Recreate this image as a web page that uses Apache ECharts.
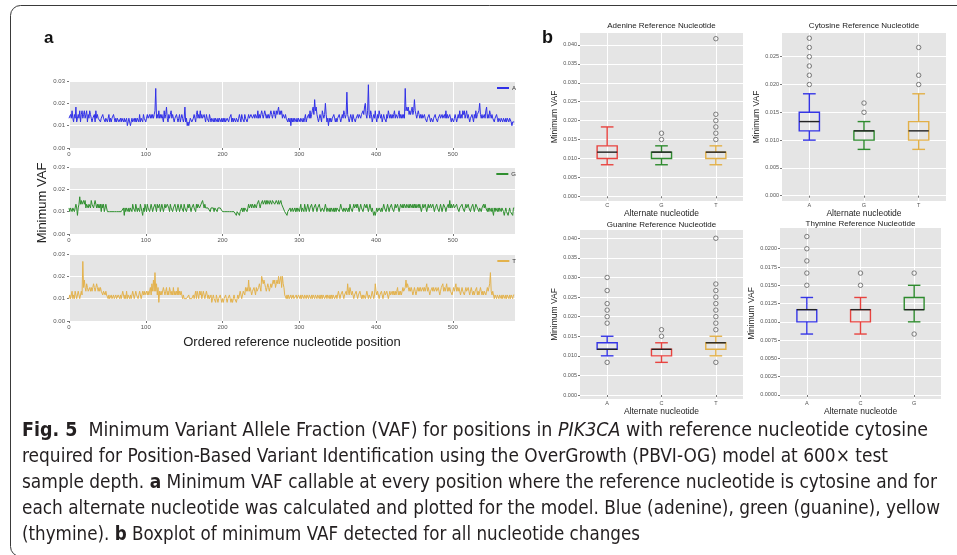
<!DOCTYPE html>
<html>
<head>
<meta charset="utf-8">
<title>Minimum VAF - PIK3CA</title>
<script src="https://cdn.jsdelivr.net/npm/echarts@6/dist/echarts.min.js"></script>
<style>
html, body { margin: 0; padding: 0; background: #fff; }
#main { width: 957px; height: 555px; }
</style>
</head>
<body>
<div id="main"></div>
<script>
// panel a: minimum alt read count per ordered position at 600x depth (VAF = count / 600)
const minCountA = [
  8,8,9,8,10,8,7,9,8,11,7,8,9,8,10,7,9,10,8,9,
  10,8,9,10,7,9,8,10,9,8,7,8,8,9,7,10,8,9,8,8,
  8,7,8,8,9,8,8,7,8,8,7,8,9,7,8,7,8,8,9,8,
  7,8,7,8,8,7,7,8,7,8,8,7,8,7,7,8,6,7,8,7,
  6,7,8,7,7,8,7,8,7,8,8,7,9,7,8,8,7,9,8,8,
  7,8,9,8,8,9,8,9,8,9,8,9,10,16,8,9,8,10,8,9,
  8,9,8,7,10,8,9,11,8,7,9,8,9,10,8,9,8,7,8,8,
  9,8,7,8,9,7,8,9,8,7,8,11,7,8,6,7,6,7,8,8,
  7,7,8,9,8,7,9,10,8,9,8,10,8,9,8,8,9,8,7,9,
  8,8,7,9,8,7,8,8,7,8,7,8,8,7,8,7,8,8,7,8,
  7,8,7,8,7,7,8,8,7,8,8,9,7,8,7,8,8,7,8,8,
  7,8,9,8,7,9,8,8,7,9,8,8,7,8,9,8,8,9,9,8,
  8,9,8,9,9,8,10,8,9,8,8,10,9,8,9,10,10,8,9,8,
  9,8,8,10,9,8,9,10,9,8,10,9,10,11,9,10,9,10,8,9,
  9,8,9,8,8,7,8,7,8,6,8,7,8,7,8,8,7,8,7,8,
  8,7,8,8,7,8,7,8,9,7,8,8,9,8,10,8,9,10,11,9,
  13,10,11,9,8,7,8,9,8,7,10,9,8,9,12,9,7,8,6,8,
  7,8,7,8,8,9,8,7,8,7,8,8,9,8,7,8,9,8,10,9,
  8,9,15,9,8,7,8,9,8,7,9,8,8,7,8,8,9,8,9,9,
  8,9,9,10,9,11,12,9,8,10,17,9,8,10,9,7,8,9,8,10,
  8,7,9,8,10,9,8,9,7,8,9,8,8,7,9,8,10,9,8,9,
  8,9,8,9,10,8,9,9,8,9,10,8,9,8,9,8,9,8,16,10,
  11,10,11,9,10,9,10,11,9,10,13,10,9,8,9,10,9,8,9,8,
  9,8,8,9,8,8,7,8,8,9,8,7,8,8,7,8,8,9,8,8,
  7,8,8,9,8,8,9,8,8,9,8,10,8,9,8,8,9,8,7,8,
  8,7,8,9,8,7,8,9,8,10,8,9,8,10,9,10,8,9,10,8,
  9,8,7,8,8,9,8,7,9,8,10,8,9,9,10,12,9,8,9,8,
  8,9,8,10,11,8,9,8,10,9,8,9,8,8,7,8,8,9,8,7,
  8,8,7,8,8,7,8,8,7,8,7,8,8,7,8,8,7,6,7,7,
  7
];
const minCountG = [
  7,6,7,7,6,7,7,6,7,8,7,5,7,8,10,8,9,8,8,9,
  8,9,7,8,8,7,8,8,7,9,8,8,7,8,9,8,7,8,7,8,
  7,8,6,8,7,8,6,7,8,7,6,6,6,6,6,6,6,6,6,6,
  6,6,6,6,6,6,6,6,6,6,6,7,5,7,6,7,7,6,7,6,
  7,7,6,8,7,7,6,8,7,6,7,7,6,8,7,6,5,7,6,8,
  7,6,8,7,7,6,7,8,7,6,7,7,8,7,6,8,7,7,8,6,
  7,8,7,6,7,8,7,7,8,8,7,6,8,7,7,6,7,7,8,7,
  6,7,8,7,6,7,8,7,7,6,8,7,7,6,7,8,7,8,7,6,
  7,7,8,7,7,6,8,7,8,8,7,7,8,8,9,8,7,8,7,7,
  7,7,7,7,6,7,7,7,7,6,7,7,7,6,7,7,7,7,7,7,
  6,6,6,6,6,6,6,6,6,6,6,6,6,6,6,6,6,6,5,6,
  6,6,5,6,6,7,6,7,6,7,7,7,6,7,8,7,7,8,7,8,
  8,7,8,8,7,8,8,9,8,7,8,8,9,8,8,9,8,9,8,9,
  9,8,9,9,8,9,9,9,8,8,9,9,8,9,8,8,9,8,8,7,
  7,6,6,6,5,6,6,6,7,6,6,7,6,6,7,6,7,6,7,7,
  6,7,8,6,7,7,6,8,7,6,7,8,7,6,7,7,8,7,6,7,
  7,8,7,6,7,7,8,7,6,6,7,7,6,7,8,7,6,7,7,6,
  7,6,7,7,6,7,6,7,6,7,7,7,6,7,8,7,7,6,7,7,
  6,7,7,6,7,6,8,7,7,6,7,8,7,7,8,7,8,7,6,7,
  8,7,7,6,7,8,8,7,8,7,6,7,8,7,6,7,7,5,6,5,
  6,7,6,6,7,7,6,7,6,7,8,7,7,6,7,8,7,6,7,7,
  8,7,7,6,7,8,7,7,8,7,6,7,8,8,7,8,7,8,8,7,
  8,8,7,8,7,8,8,7,8,7,8,7,8,7,7,8,7,8,7,6,
  7,8,7,7,8,7,6,7,8,7,7,8,7,7,8,7,6,7,7,8,
  7,7,6,7,8,7,6,7,8,8,7,6,7,7,8,7,9,7,8,7,
  7,8,7,7,7,8,7,7,6,7,7,7,8,7,7,6,7,8,7,7,
  8,7,7,6,7,7,8,7,6,7,8,8,7,7,6,7,7,6,7,7,
  8,7,8,7,7,6,7,6,7,7,6,7,7,5,7,6,7,7,6,7,
  6,7,7,6,7,7,6,5,6,7,6,6,5,6,7,6,6,6,5,7,
  7
];
const minCountT = [
  6,7,6,7,8,6,7,6,8,7,6,7,8,7,6,7,8,7,16,9,
  11,9,8,10,9,8,8,9,8,9,8,9,10,9,8,9,10,9,8,9,
  8,9,8,8,7,8,8,7,8,7,7,6,7,6,6,7,6,6,7,6,
  6,7,6,6,7,7,6,7,6,7,8,7,6,7,6,8,6,7,7,6,
  7,6,7,8,7,6,7,8,7,7,6,7,8,7,6,7,8,7,8,7,
  7,8,7,8,7,8,9,7,10,8,11,8,13,8,10,7,9,5,8,7,
  8,7,7,9,8,7,8,9,7,8,7,9,8,7,8,7,9,7,8,7,
  8,7,9,7,8,7,8,7,6,7,6,6,6,6,6,6,7,6,6,6,
  6,6,7,6,7,8,6,8,7,6,8,7,8,6,7,8,7,6,7,8,
  7,6,7,6,6,7,5,6,7,6,6,5,7,6,5,6,6,7,6,5,
  6,5,6,6,7,6,5,6,6,7,6,5,6,5,6,7,6,6,5,6,
  7,6,7,8,7,6,7,8,8,7,9,8,9,8,11,8,9,8,7,8,
  8,9,8,7,9,8,8,9,10,9,8,12,11,10,11,10,9,8,9,10,
  9,8,9,10,9,10,11,10,11,9,10,11,10,12,10,11,12,9,12,10,
  9,7,7,6,7,6,7,6,6,7,6,6,7,6,6,6,7,6,6,7,
  7,6,7,6,7,7,6,7,7,6,7,7,6,7,7,6,7,6,7,7,
  6,7,7,6,7,7,6,7,6,7,6,7,7,6,6,7,6,7,7,6,
  7,6,7,6,7,7,6,6,7,6,7,8,7,6,7,7,8,7,6,7,
  7,8,7,10,8,7,9,8,7,8,7,6,7,7,8,7,6,7,7,8,
  7,6,7,6,7,7,6,7,8,7,6,7,7,6,7,8,7,6,7,10,
  8,7,8,7,6,7,7,8,7,6,7,8,7,7,8,7,6,7,8,7,
  7,8,7,8,7,8,7,8,9,7,8,7,8,7,8,9,8,8,9,11,
  9,10,9,8,9,8,9,8,7,8,9,8,7,8,9,8,9,8,9,8,
  8,9,8,9,8,9,10,8,9,8,7,8,8,9,8,9,8,8,9,8,
  8,9,8,7,8,9,9,10,8,9,8,9,10,8,9,8,9,8,8,7,
  8,9,8,9,10,8,9,8,9,8,7,8,9,8,8,7,8,9,8,8,
  9,8,7,8,9,8,7,8,7,8,8,9,7,8,7,8,9,8,7,8,
  7,8,8,7,8,9,8,9,10,13,8,7,8,7,6,7,7,6,7,7,
  6,7,7,6,7,6,7,7,6,7,6,7,7,6,7,6,7,7,6,7,
  7
];
const positionTicks = [0, 100, 200, 300, 400, 500];

// panel b: boxplot stats in read counts [min, q1, median, q3, max] and outliers
const adenineAlt = ['C', 'G', 'T'];
const adenineBox = [[5, 6, 7, 8, 11], [5, 6, 7, 7, 8], [5, 6, 7, 7, 8]];
const adenineOut = [[], [9, 10], [9, 10, 11, 12, 13, 25]];

const cytosineAlt = ['A', 'G', 'T'];
const cytosineBox = [[6, 7, 8, 9, 11], [5, 6, 7, 7, 8], [5, 6, 7, 8, 11]];
const cytosineOut = [[12, 13, 14, 15, 16, 17], [9, 10], [12, 13, 16]];

const guanineAlt = ['A', 'C', 'T'];
const guanineBox = [[6, 7, 7, 8, 9], [5, 6, 7, 7, 8], [6, 7, 8, 8, 9]];
const guanineOut = [[5, 11, 12, 13, 14, 16, 18], [9, 10], [5, 10, 11, 12, 13, 14, 15, 16, 17, 24]];

const thymineAlt = ['A', 'C', 'G'];
const thymineBox = [[5, 6, 7, 7, 8], [5, 6, 7, 7, 8], [6, 7, 7, 8, 9]];
const thymineOut = [[9, 10, 11, 12, 13], [9, 10], [5, 10]];

const ticks040 = [0, 3, 6, 9, 12, 15, 18, 21, 24];
const ticks025 = [0, 3, 6, 9, 12, 15];
const ticks020 = [0, 1.5, 3, 4.5, 6, 7.5, 9, 10.5, 12];

const DEPTH = 600;
const BG = '#e5e5e5';
const FONT = 'Liberation Sans, Arial, sans-serif';
const NUC_COLOR = { A: '#3535e6', C: '#e8433f', G: '#2e8b2e', T: '#e2b048' };
const LINE_COLOR = { A: '#3030e8', G: '#2f8f2f', T: '#e3b24c' };

const chart = echarts.init(document.getElementById('main'), null, { renderer: 'canvas' });

const grids = [], xAxes = [], yAxes = [], series = [], legends = [], graphics = [];

const tickLabel = { fontSize: 6, color: '#555', fontFamily: FONT };
const whiteLine = { show: true, lineStyle: { color: '#fff', width: 1 } };

// ---- panel a
const lines = [
  { name: 'A', counts: minCountA, top: 81 },
  { name: 'G', counts: minCountG, top: 167 },
  { name: 'T', counts: minCountT, top: 254 }
];
lines.forEach((ln, k) => {
  grids.push({ left: 69, top: ln.top, width: 446, height: 67, show: true, backgroundColor: BG, borderWidth: 0 });
  const xa = {
    type: 'value', gridIndex: k, min: 0, max: 581,
    axisLine: { show: false },
    axisTick: { show: true, customValues: positionTicks, length: 2, lineStyle: { color: '#777' } },
    axisLabel: Object.assign({ customValues: positionTicks, margin: 3 }, tickLabel),
    splitLine: whiteLine
  };
  if (k === 2) {
    xa.name = 'Ordered reference nucleotide position';
    xa.nameLocation = 'middle';
    xa.nameGap = 15;
    xa.nameTextStyle = { fontSize: 13, color: '#222', fontFamily: FONT };
  }
  xAxes.push(xa);
  yAxes.push({
    type: 'value', gridIndex: k, min: 0, max: 18, interval: 6,
    axisLine: { show: false },
    axisTick: { show: true, length: 2, lineStyle: { color: '#777' } },
    axisLabel: Object.assign({ margin: 4, formatter: v => (v / DEPTH).toFixed(2) }, tickLabel),
    splitLine: whiteLine
  });
  series.push({
    type: 'line', name: ln.name, xAxisIndex: k, yAxisIndex: k,
    data: ln.counts.map((c, i) => [i, c]),
    symbol: 'none', showSymbol: false,
    lineStyle: { width: 1, color: LINE_COLOR[ln.name] },
    itemStyle: { color: LINE_COLOR[ln.name] },
    animation: false
  });
  legends.push({
    data: [ln.name], right: 441, top: ln.top + 4, padding: 0,
    icon: 'rect', itemWidth: 12, itemHeight: 2, itemGap: 0,
    textStyle: { fontSize: 6, color: '#333', fontFamily: FONT, padding: [0, 0, 0, -2] }
  });
});

graphics.push({
  type: 'text', x: 42, y: 203, rotation: Math.PI / 2,
  style: { text: 'Minimum VAF', fontSize: 13, fontFamily: FONT, fill: '#222',
    align: 'center', verticalAlign: 'middle', textAlign: 'center', textVerticalAlign: 'middle' }
});

// ---- panel b
function renderBox(params, api) {
  const x = api.value(0);
  const lo = api.coord([x, api.value(1)]);
  const q1 = api.coord([x, api.value(2)]);
  const med = api.coord([x, api.value(3)]);
  const q3 = api.coord([x, api.value(4)]);
  const hi = api.coord([x, api.value(5)]);
  const unit = api.size([1, 0])[0];
  const bw = unit * 0.37, cw = bw * 0.63;
  const cx = lo[0];
  const color = api.visual('color');
  const st = { stroke: color, lineWidth: 1.4, fill: 'none' };
  return {
    type: 'group',
    children: [
      { type: 'line', shape: { x1: cx, y1: q1[1], x2: cx, y2: lo[1] }, style: st },
      { type: 'line', shape: { x1: cx, y1: q3[1], x2: cx, y2: hi[1] }, style: st },
      { type: 'line', shape: { x1: cx - cw / 2, y1: lo[1], x2: cx + cw / 2, y2: lo[1] }, style: st },
      { type: 'line', shape: { x1: cx - cw / 2, y1: hi[1], x2: cx + cw / 2, y2: hi[1] }, style: st },
      { type: 'rect', shape: { x: cx - bw / 2, y: q3[1], width: bw, height: q1[1] - q3[1] }, style: st },
      { type: 'line', shape: { x1: cx - bw / 2, y1: med[1], x2: cx + bw / 2, y2: med[1] }, style: { stroke: '#222', lineWidth: 1.4 } }
    ]
  };
}

const boxPanels = [
  { title: 'Adenine Reference Nucleotide', alt: adenineAlt, box: adenineBox, out: adenineOut,
    left: 580, top: 33, width: 163, height: 168, yMin: -0.75, yMax: 25.9, ticks: ticks040, dec: 3,
    nameGap: 16, xName: 'Alternate nucleotide', titleY: 26 },
  { title: 'Cytosine Reference Nucleotide', alt: cytosineAlt, box: cytosineBox, out: cytosineOut,
    left: 782, top: 33, width: 164, height: 168, yMin: -0.57, yMax: 17.56, ticks: ticks025, dec: 3,
    nameGap: 16, xName: 'Alternate nucleotide', titleY: 26 },
  { title: 'Guanine Reference Nucleotide', alt: guanineAlt, box: guanineBox, out: guanineOut,
    left: 580, top: 230, width: 163, height: 169, yMin: -0.61, yMax: 25.27, ticks: ticks040, dec: 3,
    nameGap: 16, xName: 'Alternate nucleotide', titleY: 225 },
  { title: 'Thymine Reference Nucleotide', alt: thymineAlt, box: thymineBox, out: thymineOut,
    left: 780, top: 228, width: 161, height: 171, yMin: -0.33, yMax: 13.7, ticks: ticks020, dec: 4,
    nameGap: 19, xName: 'Alternate nucleotde', titleY: 224 }
];

boxPanels.forEach((p, j) => {
  const gi = 3 + j;
  grids.push({ left: p.left, top: p.top, width: p.width, height: p.height, show: true, backgroundColor: BG, borderWidth: 0 });
  xAxes.push({
    type: 'value', gridIndex: gi, min: 0.5, max: 3.5,
    axisLine: { show: false },
    axisTick: { show: true, customValues: [1, 2, 3], length: 2, lineStyle: { color: '#777' } },
    axisLabel: Object.assign({ customValues: [1, 2, 3], margin: 1, formatter: v => p.alt[Math.round(v) - 1] }, tickLabel, { fontSize: 5.5 }),
    splitLine: whiteLine,
    name: p.xName, nameLocation: 'middle', nameGap: 2,
    nameTextStyle: { fontSize: 8.5, color: '#222', fontFamily: FONT, verticalAlign: 'top' }
  });
  yAxes.push({
    type: 'value', gridIndex: gi, min: p.yMin, max: p.yMax,
    axisLine: { show: false },
    axisTick: { show: true, customValues: p.ticks, length: 2, lineStyle: { color: '#777' } },
    axisLabel: Object.assign({ customValues: p.ticks, margin: 3, formatter: v => (v / DEPTH).toFixed(p.dec) }, tickLabel, { fontSize: 5.5 }),
    splitLine: whiteLine,
    name: 'Minimum VAF', nameLocation: 'middle', nameGap: p.nameGap, nameRotate: 90,
    nameTextStyle: { fontSize: 8.5, color: '#222', fontFamily: FONT }
  });
  series.push({
    type: 'custom', xAxisIndex: gi, yAxisIndex: gi, renderItem: renderBox,
    encode: { x: 0, y: [1, 2, 3, 4, 5] },
    data: p.box.map((b, i) => ({ value: [i + 1].concat(b), itemStyle: { color: NUC_COLOR[p.alt[i]] } })),
    animation: false
  });
  const pts = [];
  p.out.forEach((vals, i) => vals.forEach(v => pts.push([i + 1, v])));
  series.push({
    type: 'scatter', xAxisIndex: gi, yAxisIndex: gi, data: pts, clip: false,
    symbol: 'circle', symbolSize: 4.5,
    itemStyle: { color: 'rgba(0,0,0,0)', borderColor: '#555', borderWidth: 0.9 },
    animation: false
  });
  graphics.push({
    type: 'text', x: p.left + p.width / 2, y: p.titleY,
    style: { text: p.title, fontSize: 8, fontFamily: FONT, fill: '#222',
      align: 'center', verticalAlign: 'middle', textAlign: 'center', textVerticalAlign: 'middle' }
  });
});

// ---- frame, panel letters and caption
graphics.unshift({
  type: 'rect', z: -10, shape: { x: 10.5, y: 5.5, width: 970, height: 551, r: 10 },
  style: { fill: 'none', stroke: '#3a3a3a', lineWidth: 1 }
});
graphics.push(
  { type: 'text', x: 44, y: 38, style: { text: 'a', fontSize: 17, fontWeight: 'bold', fontFamily: FONT, fill: '#111', verticalAlign: 'middle', textVerticalAlign: 'middle' } },
  { type: 'text', x: 542, y: 38, style: { text: 'b', fontSize: 18, fontWeight: 'bold', fontFamily: FONT, fill: '#111', verticalAlign: 'middle', textVerticalAlign: 'middle' } }
);

const CAP_FAMILY = '"DejaVu Sans Condensed", "DejaVu Sans", sans-serif';
const CAP_SIZE = 20;
const CAP_COLOR = '#231f20';
const capRich = {
  n: { fontSize: CAP_SIZE, fontFamily: CAP_FAMILY, color: CAP_COLOR },
  b: { fontSize: CAP_SIZE, fontFamily: CAP_FAMILY, fontWeight: 'bold', color: CAP_COLOR },
  i: { fontSize: CAP_SIZE, fontFamily: CAP_FAMILY, fontStyle: 'italic', color: CAP_COLOR }
};
const captionLines = [
  [['b', 'Fig. 5'], ['n', '  Minimum Variant Allele Fraction (VAF) for positions in '], ['i', 'PIK3CA'], ['n', ' with reference nucleotide cytosine']],
  [['n', 'required for Position-Based Variant Identification using the OverGrowth (PBVI-OG) model at 600× test']],
  [['n', 'sample depth. '], ['b', 'a'], ['n', ' Minimum VAF callable at every position where the reference nucleotide is cytosine and for']],
  [['n', 'each alternate nucleotide was calculated and plotted for the model. Blue (adenine), green (guanine), yellow']],
  [['n', '(thymine). '], ['b', 'b'], ['n', ' Boxplot of minimum VAF detected for all nucleotide changes']]
];
// right end of each caption line in the figure
const captionEnds = [928, 888, 937, 940, 640];

const measureCtx = document.createElement('canvas').getContext('2d');
function segWidth(seg) {
  const st = seg[0] === 'b' ? 'bold ' : seg[0] === 'i' ? 'italic ' : '';
  measureCtx.font = st + CAP_SIZE + 'px ' + CAP_FAMILY;
  return measureCtx.measureText(seg[1]).width;
}

captionLines.forEach((segs, i) => {
  const w = segs.reduce((s, seg) => s + segWidth(seg), 0);
  graphics.push({
    type: 'text', x: 22, y: 431 + i * 26, scaleX: (captionEnds[i] - 22) / w,
    style: {
      text: segs.map(s => '{' + s[0] + '|' + s[1] + '}').join(''),
      rich: capRich, fontSize: CAP_SIZE, fontFamily: CAP_FAMILY, fill: CAP_COLOR,
      verticalAlign: 'middle', textVerticalAlign: 'middle'
    }
  });
});

chart.setOption({
  backgroundColor: '#fff',
  animation: false,
  grid: grids,
  xAxis: xAxes,
  yAxis: yAxes,
  legend: legends,
  series: series,
  graphic: { elements: graphics }
});
</script>
</body>
</html>
